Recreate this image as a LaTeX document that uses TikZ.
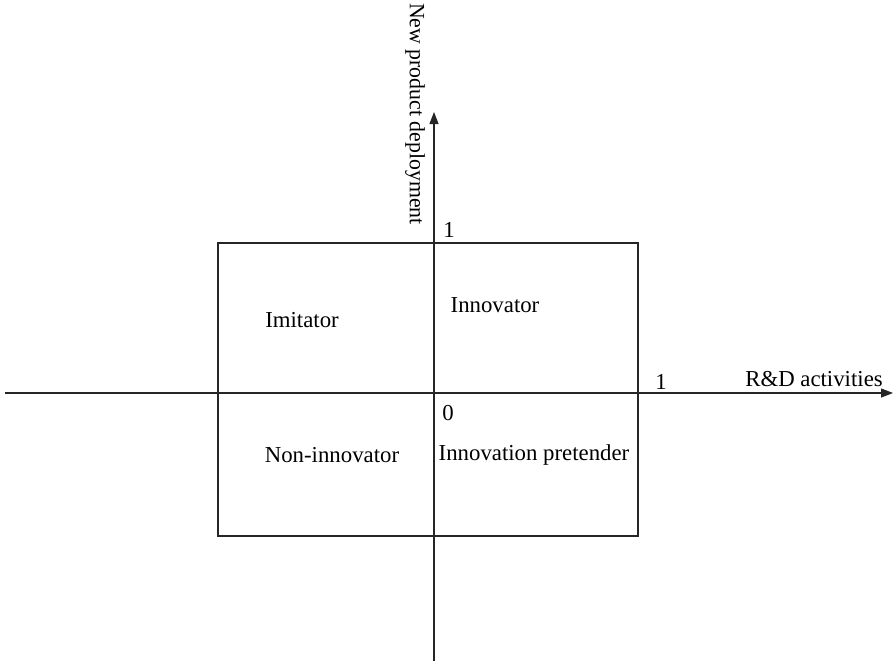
\documentclass[tikz,border=0pt]{standalone}
\usepackage{fontspec}
\setmainfont{Liberation Serif}
\usetikzlibrary{arrows.meta}

\begin{document}
\begin{tikzpicture}[
  x=1pt, y=-1pt,
  every node/.style={font=\fontsize{22.8}{27}\selectfont, inner sep=0pt},
  axis/.style={line width=1.1pt, draw=black!85, -{Triangle[length=12pt,width=9pt]}},
  frame/.style={draw=black!85, line width=1.8pt}
]
\useasboundingbox (0,0) rectangle (893,661);

% Axes
\coordinate (xstart) at (5,393);
\coordinate (xend) at (893,393);
\coordinate (ystart) at (434,661);
\coordinate (yend) at (434,112);
\draw[axis] (xstart) -- (xend);
\draw[axis] (ystart) -- (yend);

% Frame of the quadrants
\coordinate (frametl) at (218,243);
\coordinate (framebr) at (638,536);
\draw[frame] (frametl) rectangle (framebr);

% Axis labels
\node[rotate=-90, font=\fontsize{21.8}{26}\selectfont] (ylabel) at (415,114) {New product deployment};
\node (xlabel) at (814,379) {R\&D activities};
\node (yone) at (449,230) {1};
\node (xone) at (661,382) {1};
\node (origin) at (448,413) {0};

% Quadrants
\node (imitator) at (302,320) {Imitator};
\node (innovator) at (495,305) {Innovator};
\node (noninno) at (332,455) {Non-innovator};
\node (pretender) at (534,455) {Innovation pretender};

\end{tikzpicture}
\end{document}
